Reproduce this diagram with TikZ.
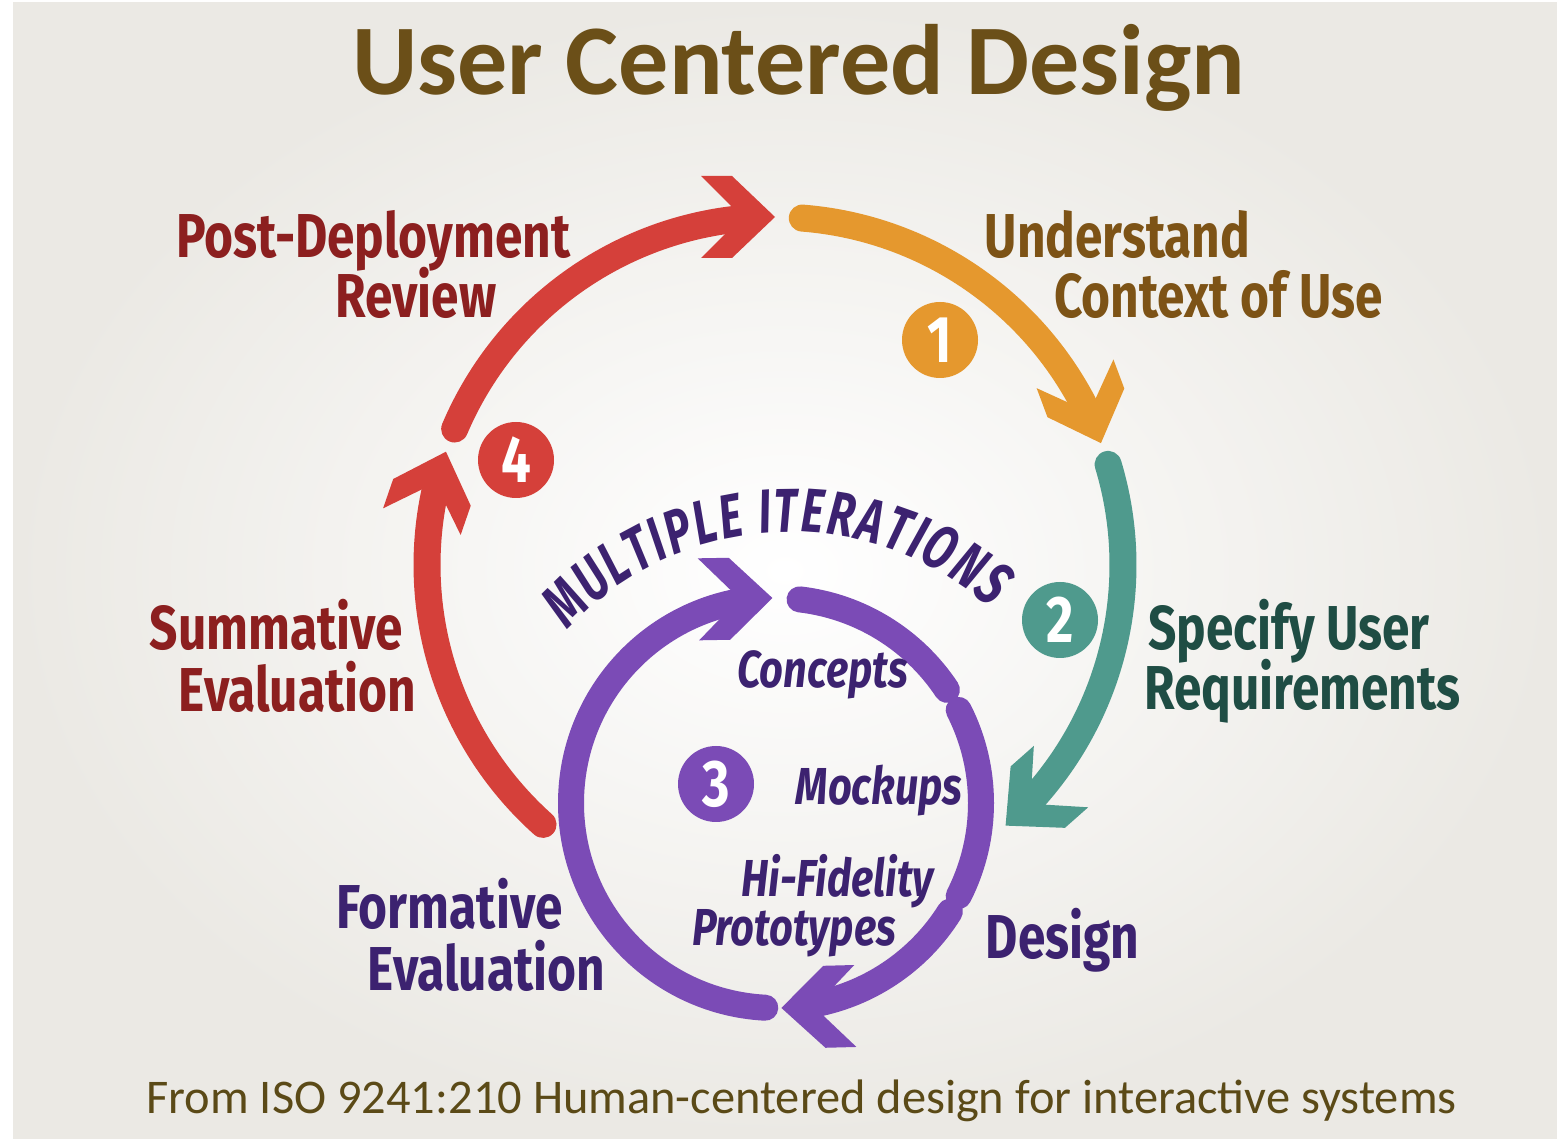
\documentclass[tikz,border=0pt]{standalone}
\usepackage{fontspec}
\setmainfont{Carlito}
\newfontfamily\condf[FakeStretch=0.8]{Fira Sans}
\newfontfamily\condx[FakeStretch=0.7]{Fira Sans}
\usetikzlibrary{decorations.text,calc}
\definecolor{redA}{HTML}{D5403A}
\definecolor{orangeA}{HTML}{E5982E}
\definecolor{tealA}{HTML}{4F9A8D}
\definecolor{purpleA}{HTML}{7B4BB6}
\definecolor{redT}{HTML}{8C1F1F}
\definecolor{orangeT}{HTML}{7D5316}
\definecolor{tealT}{HTML}{1F4D44}
\definecolor{purpleT}{HTML}{3C2270}
\definecolor{titleC}{HTML}{6B4F18}
\definecolor{footC}{HTML}{5B4A17}
\definecolor{bgout}{HTML}{EBE9E4}
\begin{document}
\begin{tikzpicture}[x=1pt,y=1pt,
  outerarc/.style={line width=27pt, line cap=round},
  innerarc/.style={line width=26pt, line cap=round},
  chevron/.pic={\fill (0,0) -- (-43,41) -- (-74,41) -- (-33,0) -- (-74,-41) -- (-43,-41) -- cycle;},
  lbl/.style={anchor=base, inner sep=0pt, font=\condf\bfseries\fontsize{62}{62}\selectfont},
  ilbl/.style={anchor=base, inner sep=0pt, text=purpleT, font=\condf\bfseries\itshape\fontsize{52}{52}\selectfont},
  badge/.style={circle, minimum size=76pt, inner sep=0pt, text=white, font=\condf\bfseries\fontsize{66}{66}\selectfont}
]
\useasboundingbox (0,0) rectangle (1557,1138);
\fill[white] (0,0) rectangle (1557,1138);
\shade[inner color=white, outer color=bgout] (13,0) rectangle (1557,1135);

\coordinate (O) at (775,573);
\coordinate (P) at (776,335);
\coordinate (T) at (790,304);

% outer cycle
\draw[outerarc, redA] (O) ++(228.2:348) arc[start angle=228.2, end angle=165.6, radius=348];
\path (O) ++(161:348) pic[color=redA, rotate=71] {chevron};
\draw[outerarc, redA] (O) ++(157:348) arc[start angle=157, end angle=94.6, radius=348];
\path (O) ++(90:348) pic[color=redA, rotate=0] {chevron};
\draw[outerarc, orangeA] (O) ++(85.5:348) arc[start angle=85.5, end angle=25.1, radius=348];
\path (O) ++(20.5:348) pic[color=orangeA, rotate=-69.5] {chevron};
\draw[outerarc, tealA] (O) ++(16.8:348) arc[start angle=16.8, end angle=-43.9, radius=348];
\path (O) ++(-48.5:348) pic[color=tealA, rotate=-138.5] {chevron};

% inner cycle
\draw[innerarc, purpleA] (P) ++(83.4:205) arc[start angle=83.4, end angle=33.5, radius=205];
\draw[innerarc, purpleA] (P) ++(27:205) arc[start angle=27, end angle=-27, radius=205];
\draw[innerarc, purpleA] (P) ++(-32:205) arc[start angle=-32, end angle=-80.7, radius=205];
\path (P) ++(-88.5:205) pic[color=purpleA, rotate=-178.5] {chevron};
\draw[innerarc, purpleA] (P) ++(267:205) arc[start angle=267, end angle=98.8, radius=205];
\path (P) ++(91:205) pic[color=purpleA, rotate=1] {chevron};

% curved text
\path[decorate, decoration={text along path, text align=fit to path, text color=purpleT,
  text={|\condx\bfseries\itshape\fontsize{62}{62}\selectfont|MULTIPLE ITERATIONS}}]
  (T) ++(137.5:302) arc[start angle=137.5, end angle=48.5, radius=302];

% badges
\node[badge, fill=orangeA] (b1) at (940,798) {1};
\node[badge, fill=tealA] (b2) at (1060,518) {2};
\node[badge, fill=purpleA] (b3) at (716,354) {3};
\node[badge, fill=redA] (b4) at (516,678) {4};

% labels
\node[lbl, text=redT] (pd1) at (373.5,880) {Post-Deployment};
\node[lbl, text=redT] (pd2) at (416,820) {Review};
\node[lbl, text=orangeT] (uc1) at (1117.5,880) {Understand};
\node[lbl, text=orangeT] (uc2) at (1218.5,820) {Context of Use};
\node[lbl, text=tealT] (su1) at (1289,488) {Specify User};
\node[lbl, text=tealT] (su2) at (1302.5,428) {Requirements};
\node[lbl, text=redT] (se1) at (276.5,488) {Summative};
\node[lbl, text=redT] (se2) at (297.5,426) {Evaluation};
\node[lbl, text=purpleT] (fe1) at (449.5,210) {Formative};
\node[lbl, text=purpleT] (fe2) at (486.5,148) {Evaluation};
\node[lbl, text=purpleT] (ds) at (1062.5,180) {Design};
\node[ilbl] (cn) at (822.5,450) {Concepts};
\node[ilbl] (mk) at (879,333) {Mockups};
\node[ilbl] (hf) at (837.5,241) {Hi-Fidelity};
\node[ilbl] (pt) at (794,193) {Prototypes};

% title and footer
\node[anchor=base, inner sep=0pt, text=titleC, font=\bfseries\fontsize{100}{100}\selectfont] (title) at (799,1043) {User Centered Design};
\node[anchor=base, inner sep=0pt, text=footC, font=\fontsize{48.4}{48.4}\selectfont] (foot) at (801.5,25) {From ISO 9241:210 Human-centered design for interactive systems};
\end{tikzpicture}
\end{document}
